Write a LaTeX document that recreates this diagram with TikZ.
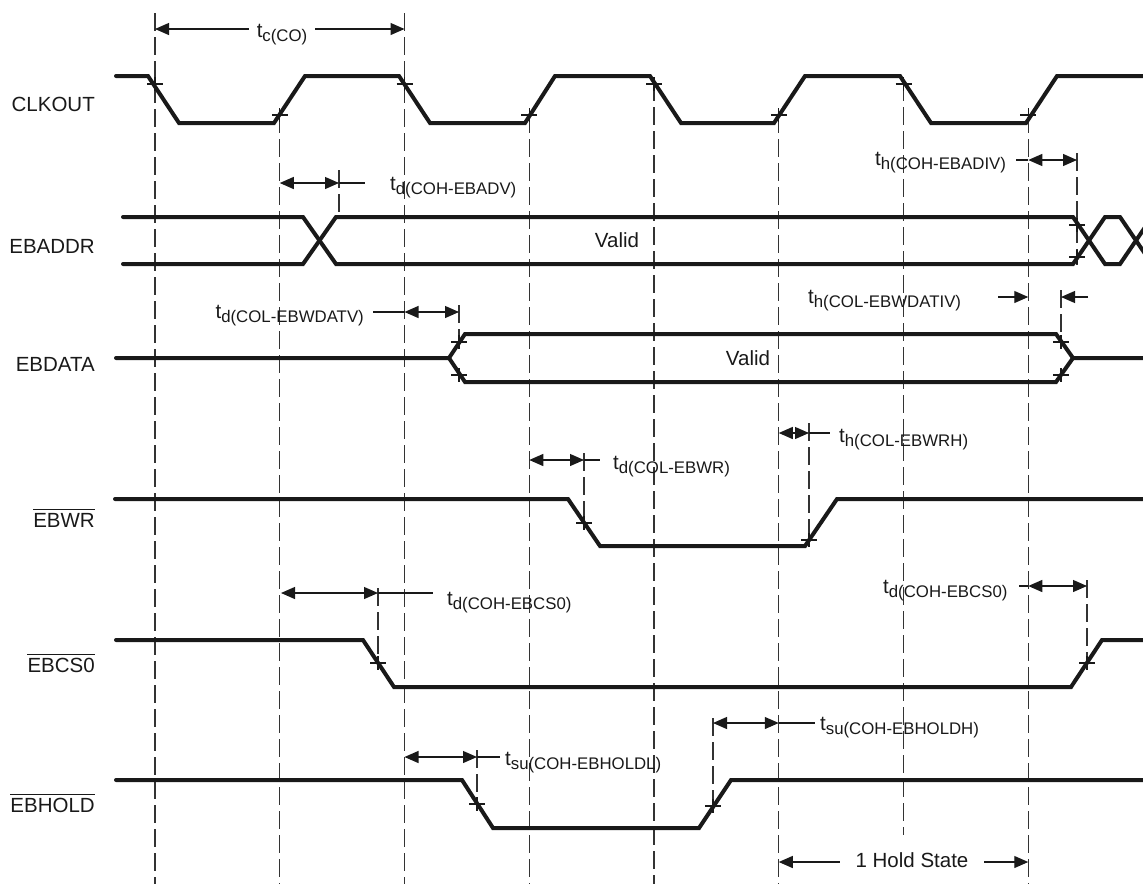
\documentclass[tikz,border=0pt]{standalone}
\usepackage{fontspec}
\setmainfont{Liberation Sans}
\usetikzlibrary{arrows.meta}
\newcommand\tlab[1]{t\raisebox{-4.5pt}{\fontsize{16.8}{18}\selectfont #1}}
\newcommand\cmk[2]{\draw[dimline] (#1,#2) +(-8,0) -- +(8,0) +(0,-7) -- +(0,7);}
\begin{document}
\begin{tikzpicture}[x=1pt,y=-1pt,
  font=\fontsize{20.5}{24}\selectfont,
  text=black!90,
  sigline/.style={line width=4pt,line cap=round,line join=miter,black!90},
  dashline/.style={line width=1.15pt,black!80,dash pattern=on 18pt off 6pt},
  dimline/.style={line width=1.2pt,black!90},
  both/.style={dimline,{Triangle[length=14pt,width=12pt]}-{Triangle[length=14pt,width=12pt]}},
  onetip/.style={dimline,-{Triangle[length=14pt,width=12pt]}},
  lab/.style={inner sep=0pt,anchor=base west},
  siglab/.style={inner sep=0pt,anchor=base east}]
\useasboundingbox (0,0) rectangle (1143,884);

% ---------- dashed reference lines ----------
\draw[dashline] (155,13) -- (155,884);
\draw[dashline] (279.75,115) -- (279.75,884);
\draw[dashline] (404.5,13) -- (404.5,884);
\draw[dashline] (529.25,115) -- (529.25,884);
\draw[dashline] (654,83) -- (654,884);
\draw[dashline] (778.75,115) -- (778.75,884);
\draw[dashline] (903.5,83) -- (903.5,835);
\draw[dashline] (1028.25,115) -- (1028.25,884);
% short ones
\draw[dashline] (339,170) -- (339,217);
\draw[dashline] (1077,153) -- (1077,265);
\draw[dashline] (459,305) -- (459,342);
\draw[dashline] (1061,290) -- (1061,342);
\draw[dashline] (584,453) -- (584,524);
\draw[dashline] (809,423) -- (809,540);
\draw[dashline] (378,588) -- (378,663);
\draw[dashline] (1087,580) -- (1087,663);
\draw[dashline] (477,750) -- (477,804);
\draw[dashline] (713,718) -- (713,806);

% ---------- signal labels ----------
\node[siglab] (lclk) at (95,111) {CLKOUT};
\node[siglab] (laddr) at (95,253) {EBADDR};
\node[siglab] (ldata) at (95,371) {EBDATA};
\node[siglab] (lwr) at (95,527) {EBWR};
\node[siglab] (lcs) at (95,672) {EBCS0};
\node[siglab] (lhold) at (95,812) {EBHOLD};
\foreach \n in {lwr,lcs,lhold}
  \draw[dimline] ([yshift=17.5pt]\n.base west) -- ([yshift=17.5pt]\n.base east);

% ---------- CLKOUT ----------
\draw[sigline] (116,76) -- (148,76) -- (179,123) -- (274,123) -- (305,76) -- (399,76)
  -- (430,123) -- (525,123) -- (555,76) -- (650,76) -- (681,123) -- (774,123)
  -- (805,76) -- (900,76) -- (931,123) -- (1026,123) -- (1057,76) -- (1143,76);
\cmk{155}{84}\cmk{404.5}{84}\cmk{654}{84}\cmk{903.5}{84}
\cmk{279.75}{115}\cmk{529.25}{115}\cmk{778.75}{115}\cmk{1028.25}{115}

% ---------- EBADDR ----------
\begin{scope}
\clip (0,0) rectangle (1143,884);
\draw[sigline] (123,217) -- (303,217) -- (336,264) -- (1073,264) -- (1105,217) -- (1120,217) -- (1152,264);
\draw[sigline] (123,264) -- (303,264) -- (336,217) -- (1073,217) -- (1105,264) -- (1120,264) -- (1152,217);
\end{scope}
\node (vaddr) at (617,240) {Valid};
\cmk{1077}{225}\cmk{1077}{257}

% ---------- EBDATA ----------
\draw[sigline] (116,358) -- (449,358) -- (465,334) -- (1056,334) -- (1073,358) -- (1143,358);
\draw[sigline] (449,358) -- (465,382) -- (1056,382) -- (1073,358);
\node (vdata) at (748,358) {Valid};
\cmk{459}{342}\cmk{459}{375}\cmk{1061}{342}\cmk{1061}{375}

% ---------- EBWR ----------
\draw[sigline] (115,499) -- (568,499) -- (600,546) -- (805,546) -- (837,499) -- (1143,499);
\cmk{584}{523}\cmk{809}{540}

% ---------- EBCS0 ----------
\draw[sigline] (116,640) -- (363,640) -- (394,687) -- (1071,687) -- (1102,640) -- (1143,640);
\cmk{378}{663}\cmk{1087}{663}

% ---------- EBHOLD ----------
\draw[sigline] (116,780) -- (462,780) -- (493,828) -- (699,828) -- (731,780) -- (1143,780);
\cmk{477}{804}\cmk{713}{806}

% ---------- timing dimensions ----------
% t_c(CO)
\draw[both] (155,29) -- (404.5,29);
\node[fill=white,inner xsep=8pt,inner ysep=1pt,anchor=base] (ltc) at (282,37) {\tlab{c(CO)}};
% t_d(COH-EBADV)
\draw[both] (279.75,183) -- (339,183);
\draw[dimline] (339,183) -- (365,183);
\node[lab] (l1) at (390,190) {\tlab{d(COH-EBADV)}};
% t_h(COH-EBADIV)
\draw[both] (1028.25,160) -- (1077,160);
\draw[dimline] (1016,160) -- (1028.25,160);
\node[lab] (l2) at (875,165) {\tlab{h(COH-EBADIV)}};
% t_d(COL-EBWDATV)
\draw[dimline] (373,312) -- (404.5,312);
\draw[both] (404.5,312) -- (459,312);
\node[inner sep=0pt,anchor=base east] (l3) at (364,318) {\tlab{d(COL-EBWDATV)}};
% t_h(COL-EBWDATIV)
\draw[onetip] (998,297) -- (1028.25,297);
\draw[onetip] (1088,297) -- (1061,297);
\node[lab] (l4) at (808,303) {\tlab{h(COL-EBWDATIV)}};
% t_d(COL-EBWR)
\draw[both] (529.25,460) -- (584,460);
\draw[dimline] (584,460) -- (600,460);
\node[lab] (l5) at (613,469) {\tlab{d(COL-EBWR)}};
% t_h(COL-EBWRH)
\draw[both] (778.75,433) -- (809,433);
\draw[dimline] (809,433) -- (830,433);
\node[lab] (l6) at (839,442) {\tlab{h(COL-EBWRH)}};
% t_d(COH-EBCS0) left
\draw[both] (281,593) -- (378,593);
\draw[dimline] (378,593) -- (433,593);
\node[lab] (l7) at (447,605) {\tlab{d(COH-EBCS0)}};
% t_d(COH-EBCS0) right
\draw[dimline] (1019,586) -- (1028.25,586);
\draw[both] (1028.25,586) -- (1087,586);
\node[lab] (l8) at (883,593) {\tlab{d(COH-EBCS0)}};
% t_su(COH-EBHOLDL)
\draw[both] (404.5,757) -- (477,757);
\draw[dimline] (477,757) -- (500,757);
\node[lab] (l9) at (505,765) {\tlab{su(COH-EBHOLDL)}};
% t_su(COH-EBHOLDH)
\draw[both] (713,723) -- (778.75,723);
\draw[dimline] (778.75,723) -- (815,723);
\node[lab] (l10) at (820,730) {\tlab{su(COH-EBHOLDH)}};
% 1 Hold State
\draw[both] (778.75,862) -- (1028.25,862);
\node[fill=white,inner xsep=16pt,inner ysep=1pt,anchor=base] (lhs) at (912,867) {1 Hold State};
\end{tikzpicture}
\end{document}
